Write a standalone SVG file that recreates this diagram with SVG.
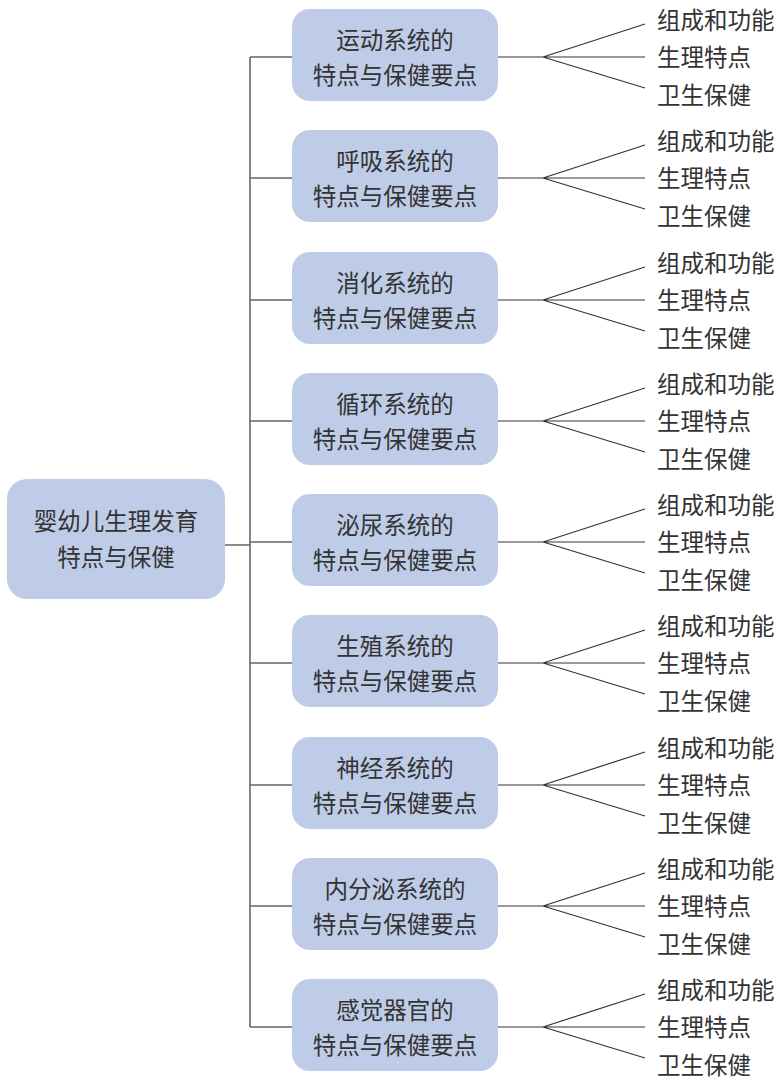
<svg xmlns="http://www.w3.org/2000/svg" width="779" height="1080" viewBox="0 0 779 1080">
<style>
.box{fill:#bfcce8;}
.t{font-family:"Noto Sans CJK SC","Noto Sans",sans-serif;font-size:23.5px;fill:#333;}
.c{text-anchor:middle;}
.ln{stroke:#333;stroke-width:1.2;fill:none;}
.hl{stroke:#666;stroke-width:1.5;fill:none;}
</style>
<rect width="779" height="1080" fill="#fff"/>
<g id="connectors">
<path class="ln" d="M250 57V1027"/>
<path class="hl" d="M225 545H250"/>
<g id="c-left">
<path class="hl" d="M250 57H292M250 178H292M250 300H292M250 421H292M250 542H292M250 663H292M250 785H292M250 906H292M250 1027H292"/>
</g>
<g id="c-fans">
<path id="fan" class="ln" d="M498 0H645M543 0L645 -33M543 0L645 31" transform="translate(0,57)"/>
<use href="#fan" transform="translate(0,121)"/>
<use href="#fan" transform="translate(0,243)"/>
<use href="#fan" transform="translate(0,364)"/>
<use href="#fan" transform="translate(0,485)"/>
<use href="#fan" transform="translate(0,606)"/>
<use href="#fan" transform="translate(0,728)"/>
<use href="#fan" transform="translate(0,849)"/>
<use href="#fan" transform="translate(0,970)"/>
</g>
</g>
<g id="root">
<rect class="box" x="7" y="479" width="218" height="120" rx="20"/>
<text class="t c" x="116" y="530">婴幼儿生理发育</text>
<text class="t c" x="116" y="566">特点与保健</text>
</g>
<g id="n1" transform="translate(0,57)">
<rect class="box" x="292" y="-48" width="206" height="92" rx="18"/>
<text class="t c" x="395" y="-8">运动系统的</text><text class="t c" x="395" y="27">特点与保健要点</text>
<text class="t" x="657" y="-28">组成和功能</text><text class="t" x="657" y="9">生理特点</text><text class="t" x="657" y="47">卫生保健</text>
</g>
<g id="n2" transform="translate(0,178)">
<rect class="box" x="292" y="-48" width="206" height="92" rx="18"/>
<text class="t c" x="395" y="-8">呼吸系统的</text><text class="t c" x="395" y="27">特点与保健要点</text>
<text class="t" x="657" y="-28">组成和功能</text><text class="t" x="657" y="9">生理特点</text><text class="t" x="657" y="47">卫生保健</text>
</g>
<g id="n3" transform="translate(0,300)">
<rect class="box" x="292" y="-48" width="206" height="92" rx="18"/>
<text class="t c" x="395" y="-8">消化系统的</text><text class="t c" x="395" y="27">特点与保健要点</text>
<text class="t" x="657" y="-28">组成和功能</text><text class="t" x="657" y="9">生理特点</text><text class="t" x="657" y="47">卫生保健</text>
</g>
<g id="n4" transform="translate(0,421)">
<rect class="box" x="292" y="-48" width="206" height="92" rx="18"/>
<text class="t c" x="395" y="-8">循环系统的</text><text class="t c" x="395" y="27">特点与保健要点</text>
<text class="t" x="657" y="-28">组成和功能</text><text class="t" x="657" y="9">生理特点</text><text class="t" x="657" y="47">卫生保健</text>
</g>
<g id="n5" transform="translate(0,542)">
<rect class="box" x="292" y="-48" width="206" height="92" rx="18"/>
<text class="t c" x="395" y="-8">泌尿系统的</text><text class="t c" x="395" y="27">特点与保健要点</text>
<text class="t" x="657" y="-28">组成和功能</text><text class="t" x="657" y="9">生理特点</text><text class="t" x="657" y="47">卫生保健</text>
</g>
<g id="n6" transform="translate(0,663)">
<rect class="box" x="292" y="-48" width="206" height="92" rx="18"/>
<text class="t c" x="395" y="-8">生殖系统的</text><text class="t c" x="395" y="27">特点与保健要点</text>
<text class="t" x="657" y="-28">组成和功能</text><text class="t" x="657" y="9">生理特点</text><text class="t" x="657" y="47">卫生保健</text>
</g>
<g id="n7" transform="translate(0,785)">
<rect class="box" x="292" y="-48" width="206" height="92" rx="18"/>
<text class="t c" x="395" y="-8">神经系统的</text><text class="t c" x="395" y="27">特点与保健要点</text>
<text class="t" x="657" y="-28">组成和功能</text><text class="t" x="657" y="9">生理特点</text><text class="t" x="657" y="47">卫生保健</text>
</g>
<g id="n8" transform="translate(0,906)">
<rect class="box" x="292" y="-48" width="206" height="92" rx="18"/>
<text class="t c" x="395" y="-8">内分泌系统的</text><text class="t c" x="395" y="27">特点与保健要点</text>
<text class="t" x="657" y="-28">组成和功能</text><text class="t" x="657" y="9">生理特点</text><text class="t" x="657" y="47">卫生保健</text>
</g>
<g id="n9" transform="translate(0,1027)">
<rect class="box" x="292" y="-48" width="206" height="92" rx="18"/>
<text class="t c" x="395" y="-8">感觉器官的</text><text class="t c" x="395" y="27">特点与保健要点</text>
<text class="t" x="657" y="-28">组成和功能</text><text class="t" x="657" y="9">生理特点</text><text class="t" x="657" y="47">卫生保健</text>
</g>
</svg>
